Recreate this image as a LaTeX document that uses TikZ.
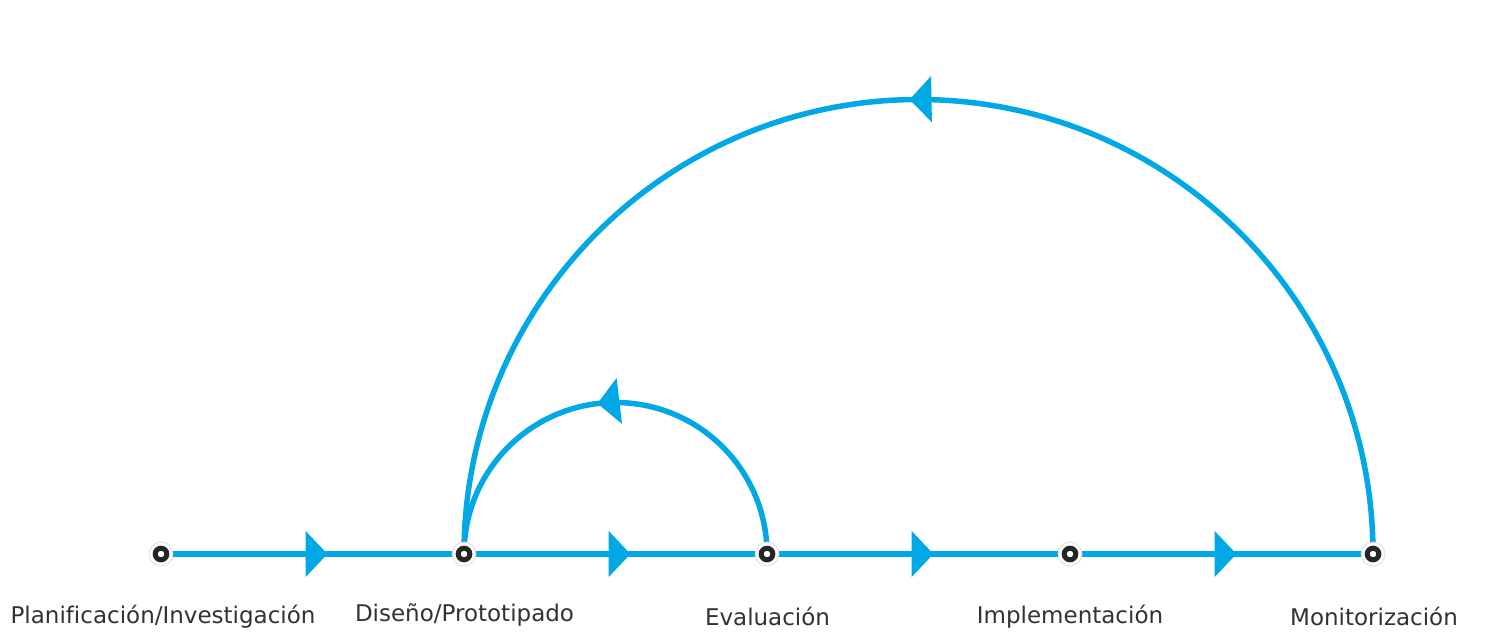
\documentclass[tikz,border=0pt]{standalone}
\usepackage{fontspec}
\setmainfont[Ligatures=NoCommon]{DejaVu Sans}
\usetikzlibrary{arrows.meta,decorations.markings,backgrounds}
\definecolor{flow}{RGB}{0,168,230}
\definecolor{txt}{RGB}{50,50,50}
\tikzset{
  stage/.style={circle, minimum size=24pt, inner sep=0pt, fill=white, draw=black!15, line width=0.7pt,
    path picture={\draw[line width=5pt, black!85] (path picture bounding box.center) circle[radius=5.8pt];}},
  lbl/.style={anchor=base, text=txt, font=\fontsize{23}{27}\selectfont, inner sep=0pt},
  flowline/.style={draw=flow, line width=5.5pt},
  tipmark/.style={postaction={decorate, decoration={markings,
     mark=at position #1 with {\arrow{Triangle[length=22pt,width=45pt]}}}}},
}
\begin{document}
\begin{tikzpicture}[x=1pt,y=1pt]
\useasboundingbox (0,0) rectangle (1504,638);
\node[stage] (n1) at (161,84) {};
\node[stage] (n2) at (464,84) {};
\node[stage] (n3) at (767,84) {};
\node[stage] (n4) at (1070,84) {};
\node[stage] (n5) at (1373,84) {};
\node[lbl] (l1) at (163,15) {Planificación/Investigación};
\node[lbl] (l2) at (464.5,17) {Diseño/Prototipado};
\node[lbl] (l3) at (767.5,13) {Evaluación};
\node[lbl] (l4) at (1070,15) {Implementación};
\node[lbl] (l5) at (1374,13) {Monitorización};
\begin{pgfonlayer}{background}
\draw[flowline, tipmark=0.5495, flow] (n1.center) -- (n2.center);
\draw[flowline, tipmark=0.5495, flow] (n2.center) -- (n3.center);
\draw[flowline, tipmark=0.5495, flow] (n3.center) -- (n4.center);
\draw[flowline, tipmark=0.5495, flow] (n4.center) -- (n5.center);
\draw[flowline, tipmark=0.538, flow] (n3.center) arc[start angle=0, end angle=180, radius=151.5];
\draw[flowline, tipmark=0.5063, flow] (n5.center) arc[start angle=0, end angle=180, radius=454.5];
\end{pgfonlayer}
\end{tikzpicture}
\end{document}
